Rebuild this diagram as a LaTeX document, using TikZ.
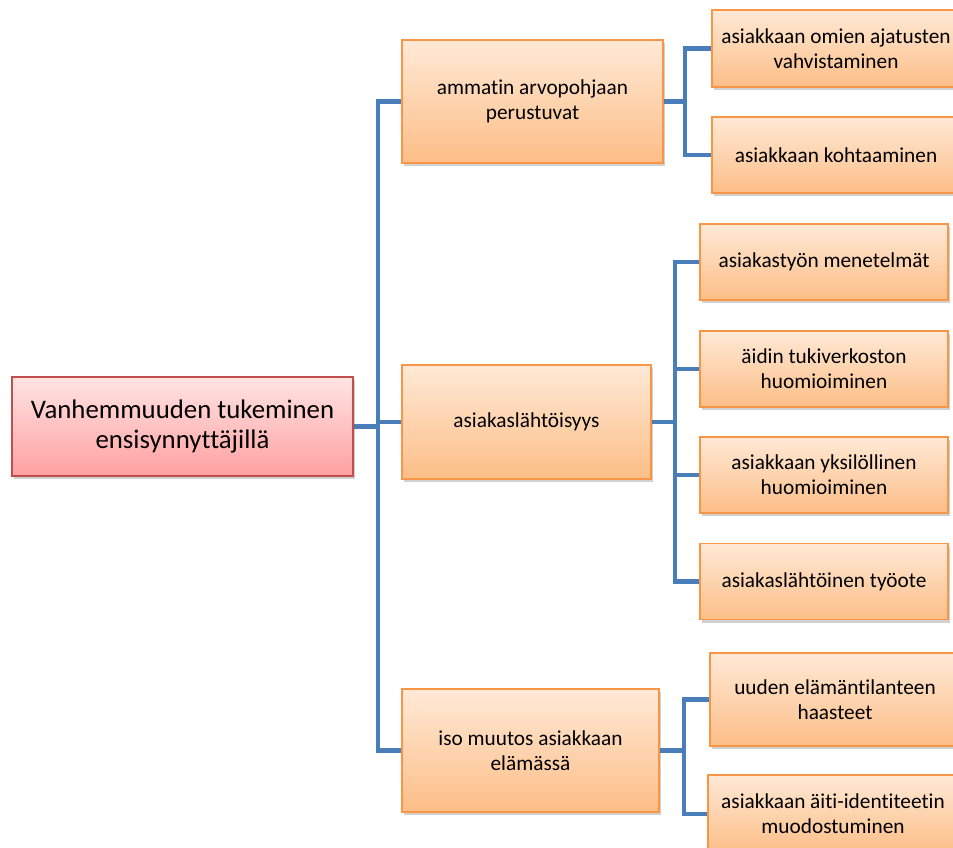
\documentclass[tikz,border=0pt]{standalone}
\usepackage{fontspec}
\setmainfont{Carlito}[Ligatures=NoCommon]
\usepackage{tikz}
\usetikzlibrary{positioning, shadows, backgrounds}
\definecolor{cLine}{RGB}{74,126,187}
\definecolor{cOrangeEdge}{RGB}{247,150,70}
\definecolor{cOrangeTop}{RGB}{255,233,214}
\definecolor{cOrangeBot}{RGB}{252,190,135}
\definecolor{cRedEdge}{RGB}{192,80,77}
\definecolor{cRedTop}{RGB}{255,228,228}
\definecolor{cRedBot}{RGB}{255,160,160}
\tikzset{
	box/.style   ={rectangle, draw=cOrangeEdge, line width=1.2pt, top color=cOrangeTop, bottom color=cOrangeBot, align=center, inner sep=2pt,
		drop shadow={shadow xshift=2pt, shadow yshift=-3pt, opacity=0.3, fill=black!60}},
	rootbox/.style={box, draw=cRedEdge, top color=cRedTop, bottom color=cRedBot, minimum width=341pt, minimum height=99pt, font=\fontsize{26.8}{30.5}\selectfont},
	midbox/.style ={box, font=\fontsize{21.3}{25}\selectfont},
	leaf/.style   ={box, minimum width=248pt, minimum height=76pt, font=\fontsize{21.3}{25}\selectfont},
	conn/.style   ={line width=4.8pt, cLine},
}
\begin{document}
\begin{tikzpicture}[x=1pt, y=-1pt]
	\useasboundingbox (0,0) rectangle (953,847);
	\clip (0,0) rectangle (953,847);
	% boxes
	\node[rootbox] (root) at (182.5,426.5) {Vanhemmuuden tukeminen\\ensisynnyttäjillä};
	\node[midbox, minimum width=261pt, minimum height=123pt] (arvo) at (532.5,101.5) {ammatin arvopohjaan\\perustuvat};
	\node[midbox, minimum width=249pt, minimum height=114pt] (lahto) at (526.5,422) {asiakaslähtöisyys};
	\node[midbox, minimum width=257pt, minimum height=123pt] (muutos) at (530.5,750.5) {iso muutos asiakkaan\\elämässä};
	\node[leaf, minimum height=77pt] (ajat) at (836,48.5) {asiakkaan omien ajatusten\\vahvistaminen};
	\node[leaf] (kohta) at (836,155) {asiakkaan kohtaaminen};
	\node[leaf] (mene) at (824,262) {asiakastyön menetelmät};
	\node[leaf] (verk) at (824,369) {äidin tukiverkoston\\huomioiminen};
	\node[leaf] (yksi) at (824,475) {asiakkaan yksilöllinen\\huomioiminen};
	\node[leaf] (tyoote) at (824,581.5) {asiakaslähtöinen työote};
	\node[leaf, minimum width=250pt, minimum height=93pt] (haast) at (835,699.5) {uuden elämäntilanteen\\haasteet};
	\node[leaf, minimum width=250pt, minimum height=78pt] (ident) at (833,814) {asiakkaan äiti-identiteetin\\muodostuminen};
	% junctions
	\coordinate (j0) at (378,426.5);
	\coordinate (j1) at (685,101.5);
	\coordinate (j2) at (675,422);
	\coordinate (j3) at (684,750.5);
	% connectors
	\begin{scope}[on background layer]
	\draw[conn] (root.east) -- (j0);
	\draw[conn] (arvo.west) -| (j0) |- (muutos.west);
	\draw[conn] (j0) |- (lahto.west);
	\draw[conn] (arvo.east) -- (j1);
	\draw[conn] (ajat.west) -| (j1) |- (kohta.west);
	\draw[conn] (lahto.east) -- (j2);
	\draw[conn] (mene.west) -| (j2) |- (tyoote.west);
	\draw[conn] (j2) |- (verk.west);
	\draw[conn] (j2) |- (yksi.west);
	\draw[conn] (muutos.east) -- (j3);
	\draw[conn] (haast.west) -| (j3) |- (ident.west);
	\end{scope}
\end{tikzpicture}
\end{document}
